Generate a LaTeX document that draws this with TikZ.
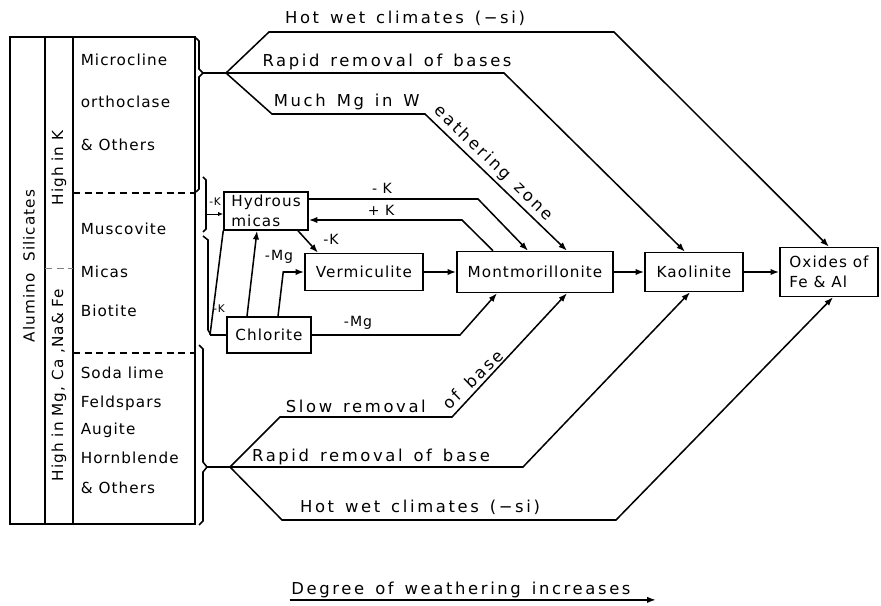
\documentclass[tikz,border=0pt]{standalone}
\usepackage{fontspec}
\setmainfont{DejaVu Sans}
\newfontfamily\labelfont[LetterSpace=16, WordSpace=1.4]{DejaVu Sans}
\newfontfamily\boxfont[LetterSpace=7]{DejaVu Sans}
\usetikzlibrary{arrows.meta, positioning, calc}

\begin{document}
\begin{tikzpicture}[
        x=0.3mm, y=-0.3mm,
        line width=1.3pt,
        mineral/.style={
            rectangle,
            draw,
            line width=1.3pt,
            align=left,
            inner sep=2pt,
            font=\boxfont\fontsize{13}{17}\selectfont
        },
        rock/.style={anchor=west, inner sep=0pt, font=\boxfont\fontsize{13}{16}\selectfont},
        side/.style={rotate=90, inner sep=0pt, font=\boxfont\fontsize{13}{16}\selectfont},
        route/.style={font=\labelfont\fontsize{14}{16}\selectfont, inner sep=1pt},
        small/.style={font=\boxfont\fontsize{9}{10}\selectfont, inner sep=0pt},
        arrow/.style={-{Latex[length=2.6mm, width=1.9mm]}, line width=1.3pt},
        divider/.style={dashed, dash pattern=on 6pt off 4pt, line width=1.3pt}
    ]

    \useasboundingbox (0,0) rectangle (881,606);

    % Table of parent minerals
    \draw (10,37) rectangle (195,524);
    \draw (45,37) -- (45,524);
    \draw (73,37) -- (73,524);
    \draw[divider] (73,193) -- (195,193);
    \draw[divider] (73,353) -- (195,353);
    \draw[divider, gray, line width=0.8pt] (45,268) -- (73,268);

    \node[side] (alumino) at (29,266) {Alumino\ \ Silicates};
    \node[side] (highk) at (59,168) {High in K};
    \node[side] (highmg) at (59,385) {High in Mg, Ca ,Na\& Fe};

    \node[rock] (microcline) at (80,60) {Microcline};
    \node[rock] (orthoclase) at (80,102) {orthoclase};
    \node[rock] (othersk) at (80,145) {\& Others};
    \node[rock] (muscovite) at (80,229) {Muscovite};
    \node[rock] (micas) at (80,272) {Micas};
    \node[rock] (biotite) at (80,311) {Biotite};
    \node[rock] (sodalime) at (80,373) {Soda lime};
    \node[rock] (feldspars) at (80,403) {Feldspars};
    \node[rock] (augite) at (80,430) {Augite};
    \node[rock] (hornblende) at (80,458) {Hornblende};
    \node[rock] (othersmg) at (80,488) {\& Others};

    % Braces on the right of the table
    \draw (196,38) -- (199,41) -- (199,69) -- (203,73) -- (199,77) -- (199,189) -- (196,192);
    \draw (203,177) -- (206,180) -- (206,229) -- (203,232);
    \draw (203,236) -- (208,240) -- (208,330) -- (211,335);
    \draw (199,345) -- (203,349) -- (203,462) -- (207,467) -- (203,472) -- (203,521) -- (199,525);
    \coordinate (ktip) at (203,73);
    \coordinate (topfan) at (226,73);
    \coordinate (mgtip) at (207,467);
    \coordinate (botfan) at (230,467);
    \coordinate (musk) at (206,214);
    \coordinate (micajoin) at (210,335);
    \draw (ktip) -- (topfan);
    \draw (mgtip) -- (botfan);

    % Weathering products
    \node[mineral, minimum width=25.2mm, minimum height=11.4mm] (hydrous) at (266,211) {Hydrous\\micas};
    \node[mineral, minimum width=35.4mm, minimum height=11.1mm] (verm) at (364,272) {Vermiculite};
    \node[mineral, minimum width=46.8mm, minimum height=12.3mm] (mont) at (535,272) {Montmorillonite};
    \node[mineral, minimum width=29.4mm, minimum height=11.7mm] (kaol) at (694,272) {Kaolinite};
    \node[mineral, minimum width=29.4mm, minimum height=14.7mm] (oxides) at (829,272) {Oxides of\\Fe \& Al};
    \node[mineral, minimum width=25.2mm, minimum height=10.8mm] (chlorite) at (269,335) {Chlorite};

    \draw[arrow] (verm) -- (mont);
    \draw[arrow] (mont) -- (kaol);
    \draw[arrow] (kaol) -- (oxides);

    % Mica links
    \node[small] (kmus) at (215,202) {-K};
    \node[small] (kbio) at (219,309) {-K};
    \draw[-{Latex[length=1.5mm, width=1.2mm]}, line width=0.8pt] (musk) -- (hydrous.west |- musk);
    \draw (micajoin) -- (hydrous.south west);
    \draw (micajoin) -- (chlorite.west);

    \draw[arrow] ([xshift=9.6mm]hydrous.south) -- ([xshift=-13.8mm]verm.north);
    \node[small, font=\boxfont\fontsize{12}{13}\selectfont] (khv) at (331,239) {-K};
    \draw[arrow] ([xshift=-6.6mm]chlorite.north) -- ([xshift=-2.7mm]hydrous.south);
    \node[small, font=\boxfont\fontsize{12}{13}\selectfont] (mgch) at (279,257) {-Mg};
    \draw[arrow] ([xshift=2.7mm]chlorite.north) -- ([xshift=-6.3mm]verm.west) -- (verm.west);
    \draw[arrow] (chlorite.east) -- (460,335) -- ([xshift=-11.4mm]mont.south);
    \node[small, font=\boxfont\fontsize{12}{13}\selectfont] (mgcm) at (358,323) {-Mg};

    \draw[arrow] ([yshift=3.6mm]hydrous.east) -- (478,199) -- ([xshift=-2.1mm]mont.north);
    \node[small, font=\boxfont\fontsize{12}{13}\selectfont] (khm) at (382,188) {- K};
    \draw[arrow] ([xshift=-12.6mm]mont.north) -- (462,220) -- ([yshift=-2.7mm]hydrous.east);
    \node[small, font=\boxfont\fontsize{12}{13}\selectfont] (kmh) at (381,210) {+ K};

    % Upper fan
    \draw[arrow] (topfan) -- (269,32) -- (614,32) -- (oxides.north);
    \draw[arrow] (topfan) -- (504,73) -- ([xshift=-2.7mm]kaol.north);
    \draw[arrow] (topfan) -- (272,114) -- (425,114) -- ([xshift=9.6mm]mont.north);
    \node[route] (hotwettop) at (405,18) {Hot wet climates (−si)};
    \node[route] (rapidtop) at (387,62) {Rapid removal of bases};
    \node[route, anchor=south west] (muchmg) at (272,112) {Much Mg in W};
    \node[route, rotate=-44, anchor=south west] (weathering) at (428,114) {eathering zone};

    % Lower fan
    \draw[arrow] (botfan) -- (280,417) -- (452,417) -- ([xshift=9.6mm]mont.south);
    \draw[arrow] (botfan) -- (523,467) -- ([xshift=-1.2mm]kaol.south);
    \draw[arrow] (botfan) -- (282,520) -- (616,520) -- ([xshift=1.2mm]oxides.south);
    \node[route, anchor=south west] (slow) at (284,415) {Slow removal};
    \node[route, rotate=44, anchor=south west] (ofbase) at (450,413) {of base};
    \node[route] (rapidbot) at (371,457) {Rapid removal of base};
    \node[route] (hotwetbot) at (420,507) {Hot wet climates (−si)};

    % Direction of weathering
    \node[route] (degree) at (461,590) {Degree of weathering increases};
    \draw[arrow] (degree.south west) -- ([xshift=7mm]degree.south east);

\end{tikzpicture}
\end{document}
